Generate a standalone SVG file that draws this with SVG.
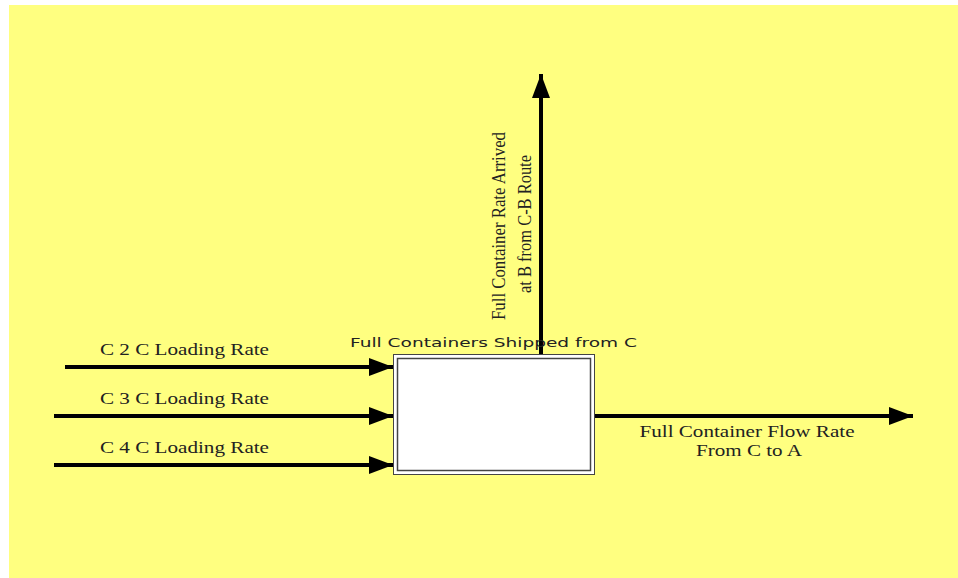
<svg xmlns="http://www.w3.org/2000/svg" width="958" height="578" viewBox="0 0 958 578">
<style>
.lbl{font-family:"Liberation Serif","Times New Roman",serif;font-size:16px;fill:#222}
.vl{font-family:"Liberation Serif","Times New Roman",serif;font-size:18px;fill:#222}
.ttl{font-family:"DejaVu Sans","Liberation Sans",sans-serif;font-size:13px;fill:#222}
.flow{stroke:#000;stroke-width:4;fill:none}
</style>
<defs>
<marker id="ah" markerUnits="userSpaceOnUse" markerWidth="26" markerHeight="20" refX="24" refY="10" orient="auto">
<path d="M0,1 L24,10 L0,19 Z" fill="#000"/>
</marker>
</defs>
<rect x="9" y="5" width="949" height="573" fill="#FFFF80"/>
<g id="connectors">
<line class="flow" x1="65" y1="367" x2="393" y2="367" marker-end="url(#ah)"/>
<line class="flow" x1="54" y1="416" x2="393" y2="416" marker-end="url(#ah)"/>
<line class="flow" x1="54" y1="465" x2="393" y2="465" marker-end="url(#ah)"/>
<line class="flow" x1="541" y1="357" x2="541" y2="74" marker-end="url(#ah)"/>
<line class="flow" x1="595" y1="416" x2="913" y2="416" marker-end="url(#ah)"/>
<text class="lbl" x="100" y="355" textLength="169" lengthAdjust="spacingAndGlyphs">C 2 C Loading Rate</text>
<text class="lbl" x="100" y="404" textLength="169" lengthAdjust="spacingAndGlyphs">C 3 C Loading Rate</text>
<text class="lbl" x="100" y="453" textLength="169" lengthAdjust="spacingAndGlyphs">C 4 C Loading Rate</text>
<text class="vl" transform="translate(505,226) rotate(-90)" text-anchor="middle" x="0" y="0" textLength="188" lengthAdjust="spacingAndGlyphs">Full Container Rate  Arrived</text>
<text class="vl" transform="translate(531,224) rotate(-90)" text-anchor="middle" x="0" y="0" textLength="138" lengthAdjust="spacingAndGlyphs">at B from C-B Route</text>
<text class="lbl" x="747" y="437" text-anchor="middle" textLength="215" lengthAdjust="spacingAndGlyphs">Full Container Flow Rate</text>
<text class="lbl" x="749" y="456" text-anchor="middle" textLength="106" lengthAdjust="spacingAndGlyphs">From C to A</text>
</g>
<g id="node-c">
<rect x="393.5" y="354.5" width="201" height="120" fill="#fff" stroke="#444" stroke-width="1"/>
<rect x="397.5" y="358.5" width="193" height="112" fill="#fff" stroke="#444" stroke-width="1.5"/>
<text class="ttl" x="350" y="347" textLength="287" lengthAdjust="spacingAndGlyphs">Full Containers Shipped from C</text>
</g>
</svg>
